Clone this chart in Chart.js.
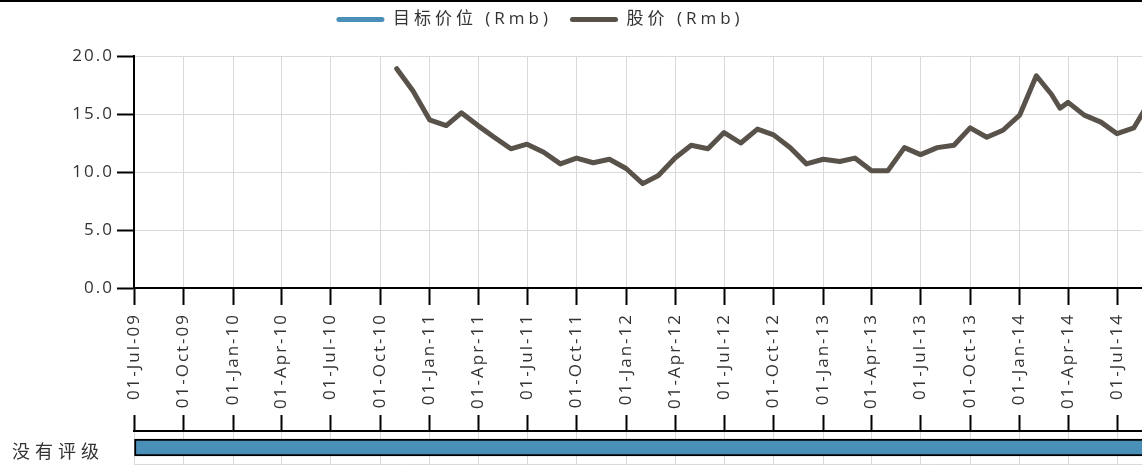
<!DOCTYPE html>
<html>
<head>
<meta charset="utf-8">
<title>股价与目标价位</title>
<script src="https://cdn.jsdelivr.net/npm/chart.js@4.4.1/dist/chart.umd.min.js"></script>
<style>
  html, body { margin: 0; padding: 0; background: #fff; overflow: hidden; }
  #wrap { position: relative; width: 1142px; height: 469px; overflow: hidden; }
  #rule { position: absolute; left: 0; top: 0; width: 100%; height: 2px; background: #000; z-index: 2; }
  #priceChart { position: absolute; left: 0; top: 0; }
  #ratingChart { position: absolute; left: 0; top: 412px; }
</style>
</head>
<body>
<div id="wrap">
  <div id="rule"></div>
  <canvas id="priceChart" width="1200" height="416"></canvas>
  <canvas id="ratingChart" width="1200" height="63"></canvas>
</div>
<script>
// ---- data ----
const START_DATE = '2009-07-01';
const END_DATE = '2014-12-02';

const tickLabels = [
  '01-Jul-09', '01-Oct-09', '01-Jan-10', '01-Apr-10', '01-Jul-10', '01-Oct-10',
  '01-Jan-11', '01-Apr-11', '01-Jul-11', '01-Oct-11', '01-Jan-12', '01-Apr-12',
  '01-Jul-12', '01-Oct-12', '01-Jan-13', '01-Apr-13', '01-Jul-13', '01-Oct-13',
  '01-Jan-14', '01-Apr-14', '01-Jul-14', '01-Oct-14'
];

const priceDates = [
  '2010-11-01', '2010-12-01',
  '2011-01-01', '2011-02-01', '2011-03-01', '2011-04-01', '2011-05-01', '2011-06-01',
  '2011-07-01', '2011-08-01', '2011-09-01', '2011-10-01', '2011-11-01', '2011-12-01',
  '2012-01-01', '2012-02-01', '2012-03-01', '2012-04-01', '2012-05-01', '2012-06-01',
  '2012-07-01', '2012-08-01', '2012-09-01', '2012-10-01', '2012-11-01', '2012-12-01',
  '2013-01-01', '2013-02-01', '2013-03-01', '2013-04-01', '2013-05-01', '2013-06-01',
  '2013-07-01', '2013-08-01', '2013-09-01', '2013-10-01', '2013-11-01', '2013-12-01',
  '2014-01-01', '2014-02-01', '2014-03-01', '2014-03-17', '2014-04-01', '2014-05-01',
  '2014-06-01', '2014-07-01', '2014-08-01', '2014-09-01'
];
const priceValues = [
  18.9, 17.0,
  14.5, 14.0, 15.1, 14.0, 13.0, 12.0,
  12.4, 11.7, 10.7, 11.2, 10.8, 11.1,
  10.3, 9.0, 9.7, 11.2, 12.3, 12.0,
  13.4, 12.5, 13.7, 13.2, 12.1, 10.7,
  11.1, 10.9, 11.2, 10.1, 10.1, 12.1,
  11.5, 12.1, 12.3, 13.8, 13.0, 13.6,
  14.9, 18.3, 16.7, 15.5, 16.0, 14.9,
  14.3, 13.3, 13.8, 16.2
];

// no target price has been published for this period
const targetDates = [];
const targetValues = [];

const ratingLabels = ['没有评级'];
const ratingStarts = ['2009-07-01'];
const ratingEnds = ['2014-12-02'];

// ---- helpers ----
const DAY_MS = 86400000;
const toDay = iso => (Date.parse(iso) - Date.parse(START_DATE)) / DAY_MS;
const MONTHS = { Jan: '01', Feb: '02', Mar: '03', Apr: '04', May: '05', Jun: '06',
                 Jul: '07', Aug: '08', Sep: '09', Oct: '10', Nov: '11', Dec: '12' };
const labelToDay = lbl => {
  const [dd, mon, yy] = lbl.split('-');
  return toDay(`20${yy}-${MONTHS[mon]}-${dd}`);
};
const tickDays = tickLabels.map(labelToDay);
const tickLabelByDay = new Map(tickDays.map((d, i) => [d, tickLabels[i]]));
const X_MAX = toDay(END_DATE);

const pricePoints = priceDates.map((d, i) => ({ x: toDay(d), y: priceValues[i] }));
const targetPoints = targetDates.map((d, i) => ({ x: toDay(d), y: targetValues[i] }));
const ratingSpans = ratingStarts.map((s, i) => [toDay(s), toDay(ratingEnds[i])]);

// ---- styling ----
const BLUE = '#4a8fb8';
const BROWN = '#58524a';
const GRID = '#d9d9d9';
const INK = '#333333';
const AXIS_W = 134;
const RATING_LABEL_X = 12;

Chart.defaults.font.family = "'Open Sans', 'Noto Sans CJK SC', sans-serif";
Chart.defaults.color = INK;

// canvas text spacing (the legend gets a wider one) and legend placement
function spacingPlugin(px, legendPx, legendBand, legendCenter, legendTop) {
  return {
    id: 'textSpacing',
    beforeUpdate(chart) {
      chart.ctx.letterSpacing = px;
      const lg = chart.legend;
      if (lg && !lg.$spaced) {
        const fit = lg.fit, draw = lg.draw;
        lg.fit = function () {
          this.ctx.letterSpacing = legendPx;
          fit.call(this);
          this.ctx.letterSpacing = px;
          if (legendBand != null) this.height = legendBand;
        };
        lg.draw = function () {
          this.ctx.letterSpacing = legendPx;
          draw.call(this);
          this.ctx.letterSpacing = px;
        };
        lg.$spaced = true;
      }
    },
    afterLayout(chart) {
      const lg = chart.legend;
      if (lg && legendCenter != null) {
        lg.left = 0;
        lg.right = legendCenter * 2;
        lg.top = legendTop;
        lg.bottom = legendTop + lg.height;
      }
    },
    beforeDraw(chart) { chart.ctx.letterSpacing = px; }
  };
}

function timeAxis(extra) {
  return Object.assign({
    type: 'linear',
    min: 0,
    max: X_MAX,
    afterBuildTicks: s => { s.ticks = tickDays.map(value => ({ value })); },
    border: { color: '#000', width: 2 }
  }, extra);
}

// ---- price chart ----
new Chart(document.getElementById('priceChart'), {
  type: 'line',
  data: {
    datasets: [
      {
        label: '目标价位 (Rmb)',
        data: targetPoints,
        borderColor: BLUE,
        backgroundColor: BLUE,
        borderWidth: 5,
        pointRadius: 0
      },
      {
        label: '股价 (Rmb)',
        data: pricePoints,
        borderColor: BROWN,
        backgroundColor: BROWN,
        borderWidth: 5,
        pointRadius: 0,
        tension: 0,
        borderJoinStyle: 'round',
        borderCapStyle: 'round'
      }
    ]
  },
  options: {
    responsive: false,
    animation: false,
    events: [],
    layout: { padding: { top: 2, left: 0, right: 0, bottom: 0 } },
    plugins: {
      tooltip: { enabled: false },
      legend: {
        position: 'top',
        align: 'center',
        labels: {
          boxWidth: 48,
          boxHeight: 5,
          padding: 18,
          color: INK,
          font: { size: 17 },
          useBorderRadius: true,
          borderRadius: 2.5,
          generateLabels(chart) {
            return Chart.defaults.plugins.legend.labels.generateLabels(chart)
              .map(item => Object.assign(item, { lineWidth: 0 }));
          }
        }
      }
    },
    scales: {
      x: timeAxis({
        afterFit: s => { s.height = 128; },
        ticks: {
          autoSkip: false,
          minRotation: 90,
          maxRotation: 90,
          padding: 8,
          color: INK,
          font: { size: 17 },
          callback: v => tickLabelByDay.get(v)
        },
        grid: { color: GRID, lineWidth: 1, tickLength: 17, tickColor: '#000', tickWidth: 2 }
      }),
      y: {
        min: 0,
        max: 20,
        afterFit: s => { s.width = AXIS_W; },
        ticks: {
          stepSize: 5,
          padding: 3,
          color: INK,
          font: { size: 17 },
          callback: v => v.toFixed(1)
        },
        grid: { color: GRID, lineWidth: 1, tickLength: 17, tickColor: '#000', tickWidth: 2 },
        border: { color: '#000', width: 2 }
      }
    }
  },
  plugins: [spacingPlugin('2px', '4px', 54, 540, -7)]
});

// ---- rating band ----
new Chart(document.getElementById('ratingChart'), {
  type: 'bar',
  data: {
    labels: ratingLabels,
    datasets: [{
      data: ratingSpans,
      backgroundColor: BLUE,
      borderColor: '#000',
      borderWidth: 2,
      borderSkipped: false,
      barThickness: 17,
      clip: false
    }]
  },
  options: {
    indexAxis: 'y',
    responsive: false,
    animation: false,
    events: [],
    layout: { padding: { top: 3, left: RATING_LABEL_X, right: 0, bottom: 11 } },
    plugins: { legend: { display: false }, tooltip: { enabled: false } },
    scales: {
      x: timeAxis({
        position: 'top',
        afterFit: s => { s.height = 16; },
        ticks: { display: false },
        grid: { color: GRID, lineWidth: 1, tickLength: 16, tickColor: '#000', tickWidth: 2 }
      }),
      y: {
        afterFit: s => { s.width = AXIS_W - RATING_LABEL_X; },
        ticks: { color: INK, font: { size: 18 }, padding: 0, crossAlign: 'far', labelOffset: 5 },
        grid: { color: GRID, offset: true, drawTicks: false },
        border: { display: false }
      }
    }
  },
  plugins: [spacingPlugin('5px', '5px', null, null, 0)]
});
</script>
</body>
</html>
